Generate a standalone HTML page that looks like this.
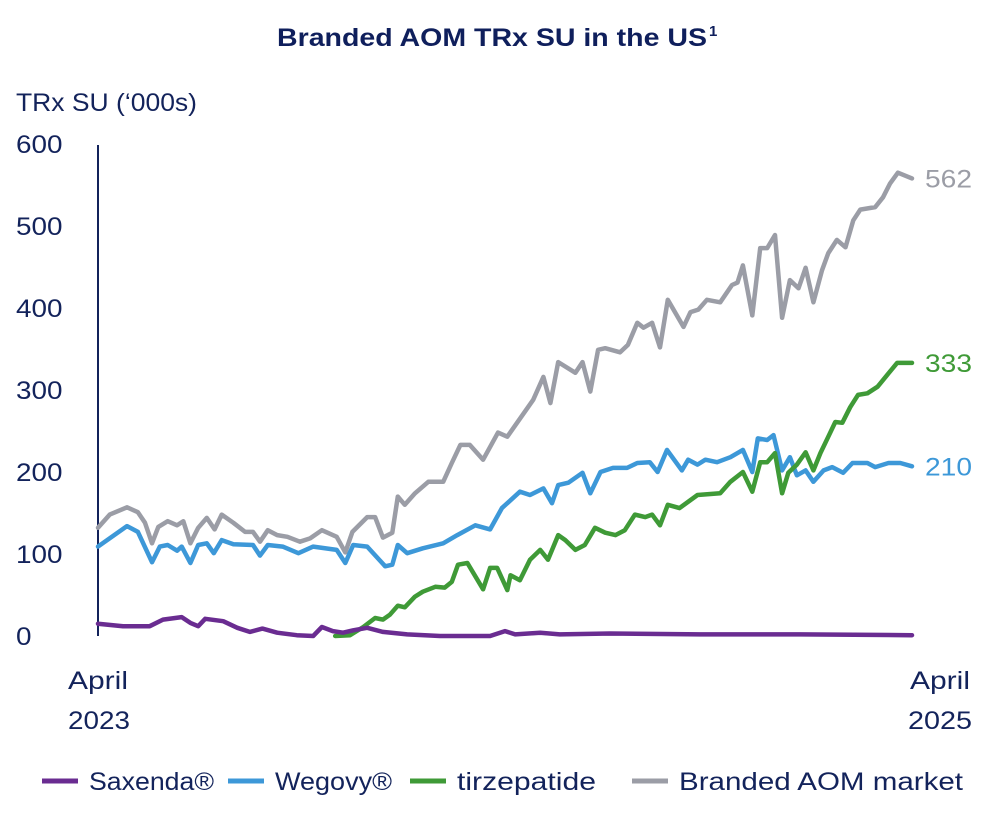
<!DOCTYPE html>
<html><head><meta charset="utf-8"><style>
html,body{margin:0;padding:0;background:#fff;width:1004px;height:838px;overflow:hidden}
svg{display:block;font-family:"Liberation Sans",sans-serif}
</style></head><body>
<svg id="chart" width="1004" height="838">
<text x="277" y="46" font-size="25" font-weight="bold" fill="#0f1f5c" textLength="430" lengthAdjust="spacingAndGlyphs">Branded AOM TRx SU in the US</text>
<text x="709" y="36" font-size="15" font-weight="bold" fill="#0f1f5c">1</text>
<text x="16" y="111" font-size="25" fill="#13235b" textLength="181" lengthAdjust="spacingAndGlyphs">TRx SU (‘000s)</text>
<g id="yticks"></g>
<line x1="98" y1="145" x2="98" y2="636" stroke="#13235b" stroke-width="2"/>
<g id="series"></g>
<g id="endlabels"></g>
<text x="68" y="689" font-size="25" fill="#13235b" textLength="60" lengthAdjust="spacingAndGlyphs">April</text>
<text x="68" y="729" font-size="25" fill="#13235b" textLength="62" lengthAdjust="spacingAndGlyphs">2023</text>
<text x="910" y="689" font-size="25" fill="#13235b" textLength="60" lengthAdjust="spacingAndGlyphs">April</text>
<text x="908" y="729" font-size="25" fill="#13235b" textLength="64" lengthAdjust="spacingAndGlyphs">2025</text>
<g id="legend"></g>
</svg>
<script>
const yTicks=[0,100,200,300,400,500,600];
const seriesNames=["Saxenda®","Wegovy®","tirzepatide","Branded AOM market"];
const seriesColors=["#6a2c91","#3d98d8","#3f9a37","#9b9da6"];
const saxWeeks=[0,3.2,6.6,8.3,10.7,11.8,12.8,13.7,16.0,17.8,19.4,21.0,22.9,25.4,27.5,28.6,30.0,31.3,32.6,34.4,36.4,39.5,43.7,50.1,52.0,53.3,56.5,59.0,65.4,76.9,89.7,104];
const saxVals=[15,12,12,20,23,16,12,21,18,10,5,9,4,1,0,11,6,4,7,10,5,2,0,0,6,2,4,2,3,2,2,1];
const wegWeeks=[0,3.7,5.1,6.9,7.9,8.9,10.1,10.7,11.8,12.8,13.9,14.8,15.8,17.3,19.8,20.7,21.7,23.6,25.6,27.5,30.5,31.6,32.6,34.4,36.7,37.6,38.3,39.5,41.5,44.1,45.9,48.2,50.1,51.6,53.9,55.2,56.9,58.0,58.8,60.1,61.9,62.9,64.2,65.8,67.6,68.9,70.5,71.5,72.7,74.6,75.4,76.6,77.6,79.1,80.8,82.4,83.6,84.3,85.5,86.3,87.4,88.4,89.3,90.4,91.4,92.7,93.8,95.2,96.4,98.3,99.3,101.0,102.5,104];
const wegVals=[109,134,127,90,109,111,104,109,89,111,113,101,117,112,111,98,111,109,101,109,105,89,111,109,85,87,111,101,107,113,123,135,130,156,176,172,180,162,184,187,199,174,200,205,205,211,212,200,227,202,215,209,215,212,218,227,200,241,239,245,202,218,196,202,188,202,206,199,211,211,206,211,211,207];
const tirWeeks=[30.3,32.2,33.9,35.4,36.4,37.3,38.3,39.2,40.5,41.5,43.1,44.3,45.2,46.0,47.2,49.2,50.1,51.0,52.3,52.7,53.9,55.2,56.5,57.5,58.8,59.7,61.0,62.2,63.5,64.8,66.1,67.3,68.6,69.9,70.8,71.8,72.8,74.3,76.6,79.5,80.8,82.4,83.6,84.6,85.5,86.5,87.4,88.2,89.3,90.4,91.4,92.3,93.3,94.2,95.1,96.1,97.1,98.3,99.6,100.8,102.1,104];
const tirVals=[0,1,11,22,20,26,37,35,48,54,60,59,66,87,89,57,83,83,56,74,68,93,105,93,123,117,105,111,132,126,123,129,148,145,148,135,160,156,172,174,188,200,176,212,212,223,174,199,209,224,202,223,243,261,260,279,294,296,304,318,333,333];
const mktWeeks=[0,1.5,3.7,5.1,6.0,6.9,7.7,8.9,10.1,10.9,11.8,12.8,13.9,14.9,15.8,17.3,18.8,19.8,20.7,21.7,22.9,24.2,25.8,27.1,28.6,30.5,31.6,32.5,34.4,35.4,36.4,37.6,38.3,39.2,40.5,42.2,44.1,45.2,46.3,47.5,49.2,51.1,52.3,55.6,56.9,57.8,58.8,61.0,61.9,62.9,63.9,64.8,66.7,67.7,68.9,69.7,70.8,71.8,72.8,74.8,75.7,76.7,77.8,79.5,81.0,81.7,82.4,83.6,84.6,85.5,86.5,87.4,88.4,89.5,90.4,91.4,92.5,93.3,94.4,95.5,96.5,97.4,99.3,100.3,101.2,102.2,104];
const mktVals=[132,148,157,151,138,113,133,140,135,140,113,132,144,130,148,138,127,127,115,129,123,121,115,119,129,121,102,127,145,145,120,126,170,160,174,188,188,211,233,233,215,248,243,288,316,284,334,321,334,298,349,351,346,355,382,376,382,352,410,377,395,398,410,407,428,431,452,391,473,473,489,388,434,424,449,407,446,467,483,474,507,520,523,535,552,565,558];
const endLabels=[562,333,210];

const NS="http://www.w3.org/2000/svg";
const X0=98,X1=912,Y0=636,Y1=144;
const xScale=w=>X0+(w/104)*(X1-X0);
const yScale=v=>Y0-(v/600)*(Y0-Y1);
function mk(tag,attrs,parent){const e=document.createElementNS(NS,tag);for(const k in attrs)e.setAttribute(k,attrs[k]);parent.appendChild(e);return e;}
const yt=document.getElementById('yticks');
yTicks.forEach(t=>{const s=String(t);const e=mk('text',{x:16,y:yScale(t)+9,'font-size':25,fill:'#13235b',textLength:s.length*15.5,lengthAdjust:'spacingAndGlyphs'},yt);e.textContent=s;

});
const sg=document.getElementById('series');
const all=[[saxWeeks,saxVals],[wegWeeks,wegVals],[tirWeeks,tirVals],[mktWeeks,mktVals]];
const keys=['saxenda-line','wegovy-line','tirzepatide-line','market-line'];
[3,1,2,0].forEach(i=>{const [ws,vs]=all[i];
const d=ws.map((w,j)=>(j?'L':'M')+xScale(w).toFixed(1)+','+yScale(vs[j]).toFixed(1)).join('');
const p=mk('path',{d:d,fill:'none',stroke:seriesColors[i],'stroke-width':4.5,'stroke-linejoin':'round','stroke-linecap':'round'},sg);

});
const el=document.getElementById('endlabels');
const labelSeries=[3,2,1];
labelSeries.forEach((si,k)=>{const vs=all[si][1];const t=mk('text',{x:925,y:yScale(vs[vs.length-1])+9,'font-size':25,fill:seriesColors[si],textLength:47,lengthAdjust:'spacingAndGlyphs'},el);t.textContent=endLabels[k];

});
const lg=document.getElementById('legend');
const lx=[42,228,410,632];
const lw=[125,117,139,284];
seriesNames.forEach((n,i)=>{const g=mk('g',{},lg);


mk('line',{x1:lx[i],y1:781,x2:lx[i]+36,y2:781,stroke:seriesColors[i],'stroke-width':5},g);
const t=mk('text',{x:lx[i]+47,y:790,'font-size':25,fill:'#13235b',textLength:lw[i],lengthAdjust:'spacingAndGlyphs'},g);t.textContent=n;});
</script>
</body></html>
